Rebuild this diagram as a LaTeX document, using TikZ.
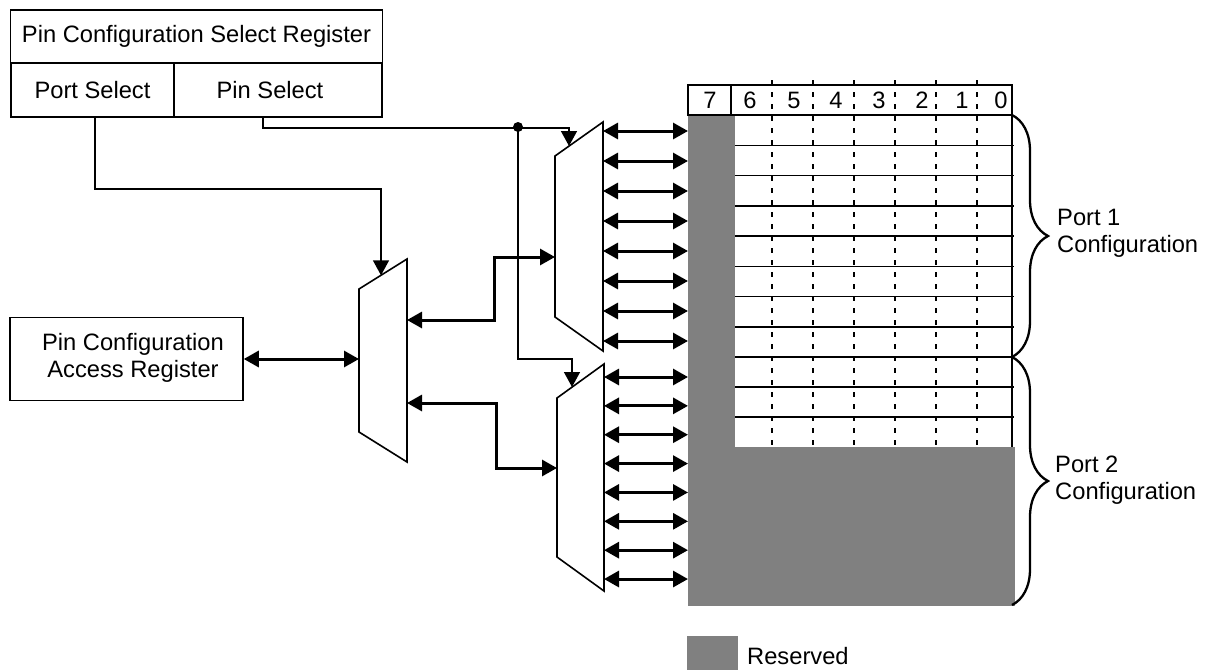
\documentclass[tikz,border=0pt]{standalone}
\usepackage{fontspec}
\setmainfont{Liberation Sans}
\usetikzlibrary{arrows.meta,decorations.pathreplacing}
\definecolor{resgray}{RGB}{128,128,128}
\newcommand\myfont{\fontsize{23.7pt}{27pt}\selectfont}
\begin{document}
\begin{tikzpicture}[x=1pt,y=-1pt,
  cell/.style={draw, line width=1.5pt, inner sep=0pt, font=\myfont},
  txt/.style={font=\myfont, inner sep=0pt},
  muxshape/.style={draw, line width=1.6pt, fill=white, line join=miter},
  sel/.style={line width=1.5pt, -{Triangle[length=15pt,width=16pt]}},
  bus/.style={line width=3pt, {Triangle[length=15pt,width=16pt]}-{Triangle[length=15pt,width=16pt]}},
  gridline/.style={line width=1.5pt},
  bracestyle/.style={line width=2.3pt, decorate, decoration={brace, amplitude=36pt}}
]
\useasboundingbox (0,0) rectangle (1205,670);

% ---- select register
\node[cell, minimum width=372pt, minimum height=53pt] (csr) at (196.5,36.5) {Pin Configuration Select Register};
\node[cell, minimum width=163pt, minimum height=54pt] (ps) at (92.5,90) {Port Select};
\node[cell, minimum width=208pt, minimum height=54pt] (pns) at (278,90) {\hspace*{-16pt}Pin Select};

% ---- access register
\node[cell, minimum width=233pt, minimum height=83pt] (par) at (126.5,359) {};
\node[txt, align=center] (partext) at (133,358) {Pin Configuration\\Access Register};

% ---- register grid
\fill[resgray] (688,115) rectangle (735,606);
\fill[resgray] (688,447) rectangle (1015,606);
\foreach \y in {145.3,175.5,205.8,236,266.3,296.5,326.8,387,417}
  \draw[gridline] (735,\y) -- (1014,\y);
\draw[line width=2.6pt] (735,357) -- (1014,357);
\draw[gridline] (1012,115) -- (1012,447);
\draw[gridline] (688,85) rectangle (1012,115);
\draw[line width=2.3pt] (731,85) -- (731,115);
\foreach \x in {772,813,854,895,936,977}
  \draw[gridline, dash pattern=on 5pt off 7pt] (\x,80) -- (\x,447);
\node[txt] (bit7) at (710,100) {7};
\node[txt] (bit6) at (750,100) {6};
\node[txt] (bit5) at (794,100) {5};
\node[txt] (bit4) at (836,100) {4};
\node[txt] (bit3) at (879,100) {3};
\node[txt] (bit2) at (922,100) {2};
\node[txt] (bit1) at (962,100) {1};
\node[txt] (bit0) at (1001,100) {0};

% ---- braces and labels
\draw[bracestyle] (1012,115) -- (1012,357);
\draw[bracestyle] (1012,357) -- (1012,605);
\node[txt, align=left, anchor=west] (p1lab) at (1057,233) {Port 1\\Configuration};
\node[txt, align=left, anchor=west] (p2lab) at (1055,480) {Port 2\\Configuration};

% ---- multiplexers
\draw[muxshape] (407,259) -- (407,462) -- (359,432) -- (359,289) -- cycle;
\draw[muxshape] (603,122) -- (603,351) -- (555,317) -- (555,156) -- cycle;
\draw[muxshape] (604,364) -- (604,591) -- (557,557) -- (557,398) -- cycle;

\coordinate (m1sel) at (381,275.3);
\coordinate (m1a) at (407,320);
\coordinate (m1b) at (407,403);
\coordinate (m1in) at (359,359);
\coordinate (m2sel) at (569,146);
\coordinate (m2in) at (555,257);
\coordinate (m3sel) at (572,387);
\coordinate (m3in) at (557,468);
\coordinate (dot) at (518,127);

% ---- select lines
\draw[sel] ([xshift=2.5pt]ps.south) -- ++(0,71) -| (m1sel);
\draw[sel] ([xshift=-15pt]pns.south) -- ++(0,10) -| (m2sel);
\draw[sel] (dot) -- ++(0,232) -| (m3sel);
\fill (dot) circle (5pt);

% ---- data buses
\draw[bus] (par.east) -- (m1in);
\draw[bus] (m1a) -- (494,320) |- (m2in);
\draw[bus] (m1b) -- (496,403) |- (m3in);

\foreach \i in {0,...,7} {
  \coordinate (ua\i) at (603,{131+30*\i});
  \coordinate (ub\i) at (688,{131+30*\i});
  \draw[bus] (ua\i) -- (ub\i);
  \coordinate (la\i) at (604,{377+28.86*\i});
  \coordinate (lb\i) at (688,{377+28.86*\i});
  \draw[bus] (la\i) -- (lb\i);
}

% ---- legend
\node[fill=resgray, minimum width=51pt, minimum height=34pt, inner sep=0pt] (legsq) at (712.5,653) {};
\node[txt, anchor=base west] (legtxt) at (747,664) {Reserved};
\end{tikzpicture}
\end{document}
